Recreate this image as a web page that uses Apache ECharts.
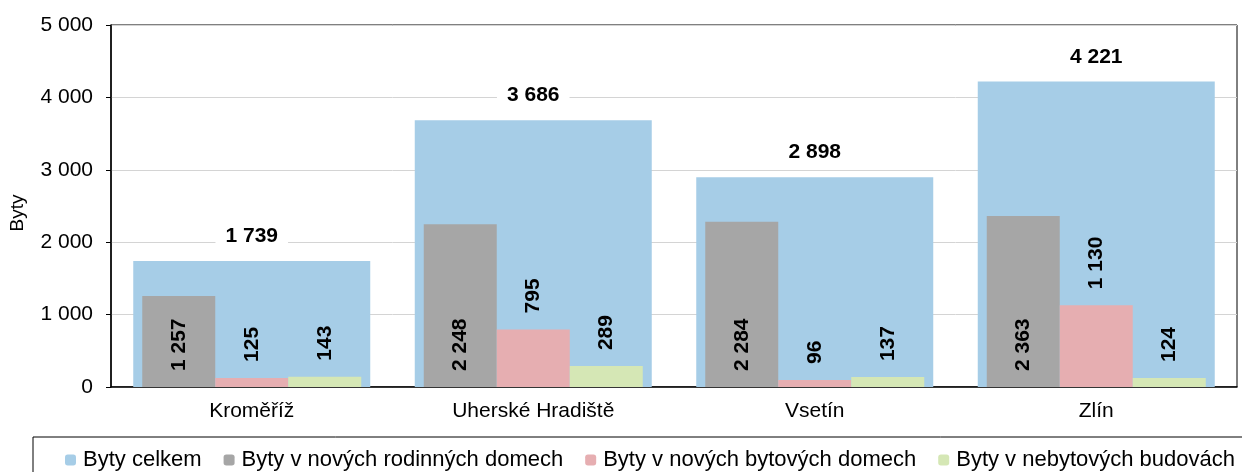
<!DOCTYPE html>
<html>
<head>
<meta charset="utf-8">
<script src="https://cdn.jsdelivr.net/npm/echarts@6/dist/echarts.min.js"></script>
<style>
  html, body { margin: 0; padding: 0; background: #fff; }
  #chart { width: 1242px; height: 472px; }
</style>
</head>
<body>
<div id="chart"></div>
<script>
  // data
  const okresy = ['Kroměříž', 'Uherské Hradiště', 'Vsetín', 'Zlín'];
  const bytyCelkem = [1739, 3686, 2898, 4221];
  const rodinneDomy = [1257, 2248, 2284, 2363];
  const bytoveDomy = [125, 795, 96, 1130];
  const nebytoveBudovy = [143, 289, 137, 124];
  const yTicks = { min: 0, max: 5000, interval: 1000 };

  const fontFamily = '"Liberation Sans", Arial, sans-serif';

  function fmt(v) {
    return String(v).replace(/\B(?=(\d{3})+(?!\d))/g, ' ');
  }

  // popisky uvnitř / nad užšími sloupci (otočené)
  function innerLabel(position) {
    return {
      show: true,
      position: position,
      distance: 16,
      rotate: 90,
      align: 'left',
      verticalAlign: 'middle',
      color: '#000',
      fontWeight: 'bold',
      fontSize: 21,
      fontFamily: fontFamily,
      formatter: p => fmt(p.value)
    };
  }

  let myChart = echarts.init(document.getElementById('chart'));
  myChart.setOption({
    animation: false,
    textStyle: { fontFamily: fontFamily },
    grid: {
      left: 108,
      right: 5,
      top: 25,
      bottom: 85,
      show: true,
      borderColor: '#000',
      borderWidth: 1
    },
    legend: {
      left: 33,
      top: 437,
      width: 1400,
      padding: [12, 12, 20, 32],
      itemGap: 22,
      itemWidth: 11,
      itemHeight: 11,
      borderColor: '#000',
      borderWidth: 1,
      textStyle: { fontSize: 22, color: '#000', fontFamily: fontFamily, padding: [0, 0, 0, 2] },
      data: ['Byty celkem', 'Byty v nových rodinných domech', 'Byty v nových bytových domech', 'Byty v nebytových budovách']
    },
    xAxis: [
      {
        type: 'category',
        data: okresy,
        axisLine: { lineStyle: { color: '#000', width: 1.5 } },
        axisTick: { length: 6, lineStyle: { color: '#000' } },
        axisLabel: { color: '#000', fontSize: 21, margin: 14 }
      },
      {
        type: 'category',
        data: okresy,
        show: false
      }
    ],
    yAxis: {
      type: 'value',
      min: yTicks.min,
      max: yTicks.max,
      interval: yTicks.interval,
      name: 'Byty',
      nameLocation: 'middle',
      nameGap: 84,
      nameTextStyle: { color: '#000', fontSize: 19, padding: [0, 14, 0, 0] },
      axisLine: { show: true, lineStyle: { color: '#000', width: 1.5 } },
      axisTick: { show: true, length: 5, lineStyle: { color: '#000' } },
      axisLabel: { color: '#000', fontSize: 21, margin: 18, formatter: fmt },
      splitLine: { lineStyle: { color: '#d4d4d4' } }
    },
    series: [
      {
        name: 'Byty celkem',
        type: 'bar',
        xAxisIndex: 1,
        barWidth: 237,
        itemStyle: { color: '#a6cde7' },
        label: {
          show: true,
          position: 'top',
          distance: 12,
          color: '#000',
          fontWeight: 'bold',
          fontSize: 21,
          backgroundColor: '#fff',
          padding: [2, 10],
          formatter: p => fmt(p.value)
        },
        data: bytyCelkem
      },
      {
        name: 'Byty v nových rodinných domech',
        type: 'bar',
        xAxisIndex: 0,
        barWidth: 73,
        barGap: 0,
        itemStyle: { color: '#a6a6a6' },
        label: innerLabel('insideBottom'),
        data: rodinneDomy
      },
      {
        name: 'Byty v nových bytových domech',
        type: 'bar',
        xAxisIndex: 0,
        barWidth: 73,
        barGap: 0,
        itemStyle: { color: '#e6aeb1' },
        label: innerLabel('top'),
        data: bytoveDomy
      },
      {
        name: 'Byty v nebytových budovách',
        type: 'bar',
        xAxisIndex: 0,
        barWidth: 73,
        barGap: 0,
        itemStyle: { color: '#d5e7b5' },
        label: innerLabel('top'),
        data: nebytoveBudovy
      }
    ]
  });
</script>
</body>
</html>
